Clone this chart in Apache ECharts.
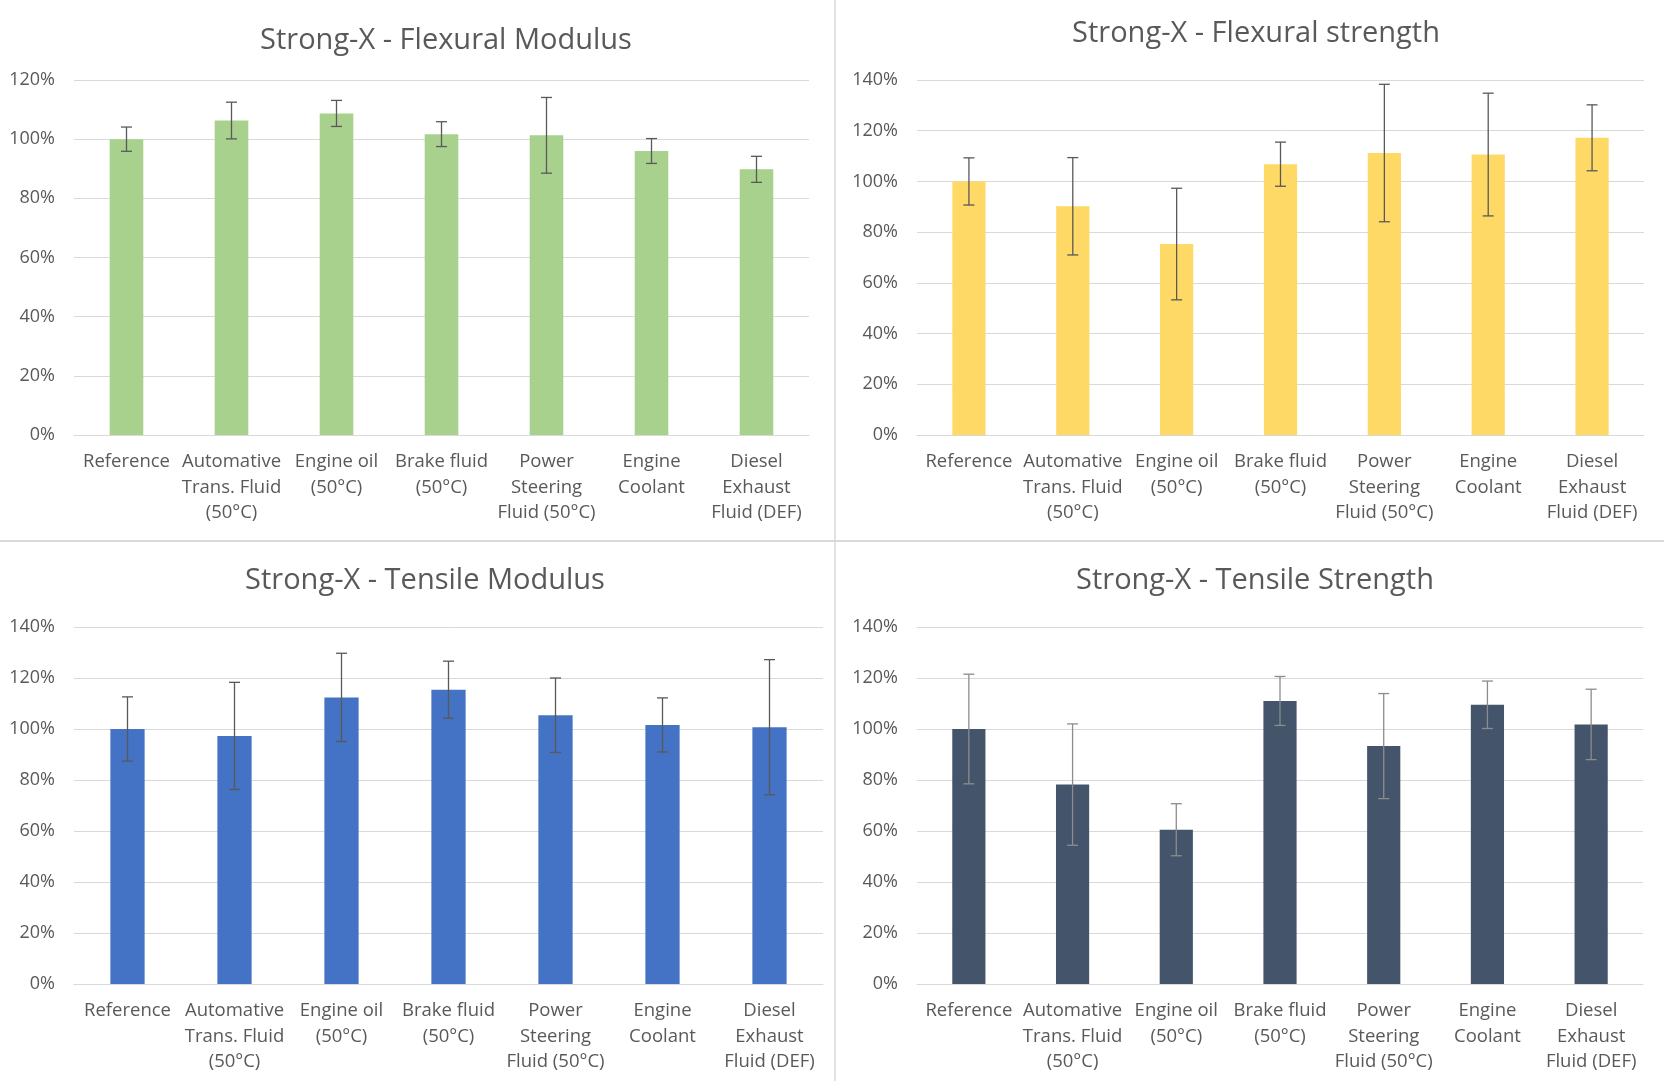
<!DOCTYPE html>
<html>
<head>
<meta charset="utf-8">
<script src="https://cdn.jsdelivr.net/npm/echarts@6/dist/echarts.min.js"></script>
<style>
html,body{margin:0;padding:0;background:#fff;}
#c{width:1664px;height:1081px;}
</style>
</head>
<body>
<div id="c"></div>
<script>
const categories = ['Reference', 'Automative\nTrans. Fluid\n(50°C)', 'Engine oil\n(50°C)', 'Brake fluid\n(50°C)', 'Power\nSteering\nFluid (50°C)', 'Engine\nCoolant', 'Diesel\nExhaust\nFluid (DEF)'];

const flexModVals = [100, 106.3, 108.7, 101.7, 101.3, 96.0, 89.8];
const flexModErr  = [4.1, 6.2, 4.4, 4.2, 12.8, 4.2, 4.4];
const flexStrVals = [100, 90.2, 75.3, 106.8, 111.2, 110.6, 117.2];
const flexStrErr  = [9.3, 19.2, 22.0, 8.7, 27.1, 24.2, 13.0];
const tenModVals  = [100, 97.3, 112.4, 115.4, 105.4, 101.6, 100.7];
const tenModErr   = [12.6, 21.0, 17.3, 11.2, 14.6, 10.6, 26.5];
const tenStrVals  = [100, 78.2, 60.5, 111.0, 93.3, 109.5, 101.8];
const tenStrErr   = [21.5, 23.8, 10.2, 9.6, 20.6, 9.3, 13.8];

const titles = ['Strong-X - Flexural Modulus', 'Strong-X - Flexural strength', 'Strong-X - Tensile Modulus', 'Strong-X - Tensile Strength'];
const yMax = [120, 140, 140, 140];

const FONT = 'Open Sans';
const panels = [
  {vals: flexModVals, err: flexModErr, color: '#A9D18E', errColor: '#595959', grid: {left: 74, top: 80, width: 735, height: 355}, title: {x: 441, top: 21}},
  {vals: flexStrVals, err: flexStrErr, color: '#FFD966', errColor: '#595959', grid: {left: 917, top: 80, width: 727, height: 355}, title: {x: 1251, top: 14}},
  {vals: tenModVals, err: tenModErr, color: '#4472C4', errColor: '#595959', grid: {left: 74, top: 627, width: 749, height: 357}, title: {x: 420, top: 561}},
  {vals: tenStrVals, err: tenStrErr, color: '#44546A', errColor: '#8c8c8c', grid: {left: 917, top: 627, width: 726, height: 357}, title: {x: 1250, top: 561}}
];

function errRender(color) {
  return function (params, api) {
    const x = api.value(0);
    const lo = api.coord([x, api.value(1)]);
    const hi = api.coord([x, api.value(2)]);
    const hw = 5.5;
    const st = {stroke: color, lineWidth: 1.3};
    return {
      type: 'group',
      children: [
        {type: 'line', shape: {x1: lo[0], y1: lo[1], x2: hi[0], y2: hi[1]}, style: st},
        {type: 'line', shape: {x1: hi[0] - hw, y1: hi[1], x2: hi[0] + hw, y2: hi[1]}, style: st},
        {type: 'line', shape: {x1: lo[0] - hw, y1: lo[1], x2: lo[0] + hw, y2: lo[1]}, style: st}
      ]
    };
  };
}

const option = {
  backgroundColor: '#ffffff',
  animation: false,
  title: panels.map((p, i) => ({
    text: titles[i],
    left: p.title.x,
    top: p.title.top,
    textAlign: 'center',
    textStyle: {fontFamily: FONT, fontSize: 29, fontWeight: 'normal', color: '#595959'}
  })),
  grid: panels.map(p => Object.assign({containLabel: false}, p.grid)),
  xAxis: panels.map((p, i) => ({
    type: 'category',
    gridIndex: i,
    data: categories,
    axisLine: {show: true, lineStyle: {color: '#d9d9d9', width: 1}},
    axisTick: {show: false},
    axisLabel: {interval: 0, margin: 14, fontFamily: FONT, fontSize: 18.5, lineHeight: 25.5, color: '#595959'}
  })),
  yAxis: panels.map((p, i) => ({
    type: 'value',
    gridIndex: i,
    min: 0,
    max: yMax[i],
    interval: 20,
    axisLine: {show: false},
    axisTick: {show: false},
    splitLine: {lineStyle: {color: '#d9d9d9', width: 1}},
    axisLabel: {formatter: '{value}%', margin: 19, fontFamily: FONT, fontSize: 18, color: '#595959'}
  })),
  series: [].concat(...panels.map((p, i) => [
    {
      type: 'bar',
      xAxisIndex: i,
      yAxisIndex: i,
      data: p.vals,
      barWidth: '32%',
      itemStyle: {color: p.color},
      z: 2
    },
    {
      type: 'custom',
      xAxisIndex: i,
      yAxisIndex: i,
      renderItem: errRender(p.errColor),
      data: p.vals.map((v, k) => [k, v - p.err[k], v + p.err[k]]),
      z: 5
    }
  ])),
  graphic: [
    {type: 'line', shape: {x1: 835, y1: 0, x2: 835, y2: 1081}, style: {stroke: '#d9d9d9', lineWidth: 1.5}},
    {type: 'line', shape: {x1: 0, y1: 541, x2: 1664, y2: 541}, style: {stroke: '#d9d9d9', lineWidth: 2}}
  ]
};

const chart = echarts.init(document.getElementById('c'));
chart.setOption(option);
</script>
</body>
</html>
